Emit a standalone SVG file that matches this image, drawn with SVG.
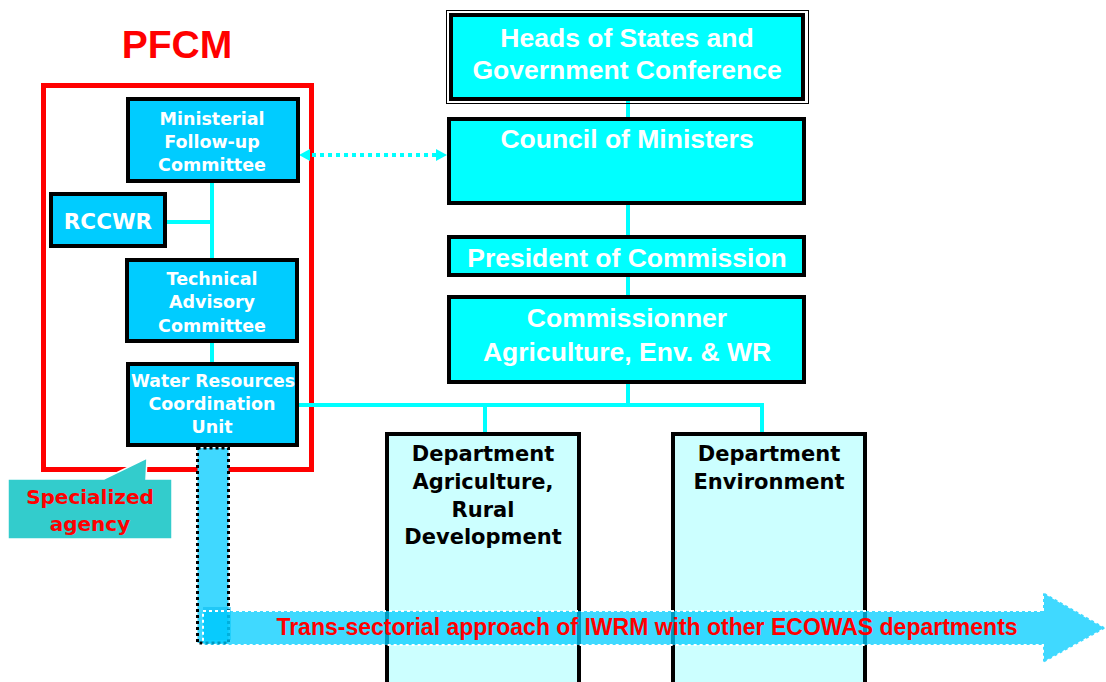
<svg xmlns="http://www.w3.org/2000/svg" width="1106" height="682" viewBox="0 0 1106 682">
<style>
.bx{fill:#00CCFF;stroke:#000;stroke-width:4}
.cy{fill:#00FFFF;stroke:#000;stroke-width:4}
.dp{fill:#CCFFFF;stroke:#000;stroke-width:4}
.tw{font-family:"DejaVu Sans",sans-serif;font-weight:bold;font-size:17.5px;fill:#fff;text-anchor:middle}
.ta{font-family:"Liberation Sans",Arial,sans-serif;font-weight:bold;font-size:26.5px;fill:#fff;text-anchor:middle}
.td{font-family:"DejaVu Sans",sans-serif;font-weight:bold;font-size:21px;fill:#000;text-anchor:middle}
.ln{stroke:#00FFFF;stroke-width:4;fill:none}
.hd{fill:#00FFFF}
</style>
<rect width="1106" height="682" fill="#fff"/>

<g id="pfcm">
<text x="177" y="58" font-family="Liberation Sans,Arial,sans-serif" font-weight="bold" font-size="39" fill="#FF0000" text-anchor="middle">PFCM</text>
<rect x="43.5" y="85.5" width="268" height="384" fill="none" stroke="#FF0000" stroke-width="5"/>
</g>

<g id="connectors">
<line class="ln" x1="212" y1="181" x2="212" y2="362"/>
<line class="ln" x1="165" y1="222" x2="212" y2="222"/>
<line class="ln" x1="628" y1="100" x2="628" y2="405"/>
<polyline class="ln" points="297,405 762,405 762,432"/>
<line class="ln" x1="485" y1="405" x2="485" y2="436"/>
<line x1="312" y1="155" x2="436" y2="155" stroke="#00FFFF" stroke-width="4" stroke-dasharray="4 4"/>
<polygon class="hd" points="299,155 310,149 310,161"/>
<polygon class="hd" points="447,155 436,149 436,161"/>
</g>

<g id="ministerial">
<rect class="bx" x="128" y="99" width="170" height="82"/>
<text class="tw" x="212" y="125">Ministerial</text>
<text class="tw" x="212" y="148">Follow-up</text>
<text class="tw" x="212" y="171">Committee</text>
</g>

<g id="rccwr">
<rect class="bx" x="51" y="194" width="114" height="52"/>
<text class="tw" x="108" y="229" style="font-size:21.5px">RCCWR</text>
</g>

<g id="technical">
<rect class="bx" x="127" y="260" width="170" height="81"/>
<text class="tw" x="212" y="285">Technical</text>
<text class="tw" x="212" y="308">Advisory</text>
<text class="tw" x="212" y="332">Committee</text>
</g>

<g id="wrcu">
<rect class="bx" x="128" y="364" width="169" height="81"/>
<text class="tw" x="213" y="387" textLength="164" lengthAdjust="spacingAndGlyphs">Water Resources</text>
<text class="tw" x="212" y="410">Coordination</text>
<text class="tw" x="212" y="433">Unit</text>
</g>

<g id="specialized">
<polygon points="8,479 104,479 147,458 146,479 172,479 172,539 8,539" fill="#33CCCC" stroke="#fff" stroke-width="1.5"/>
<text x="90" y="504" font-family="DejaVu Sans,sans-serif" font-weight="bold" font-size="20" fill="#FF0000" text-anchor="middle">Specialized</text>
<text x="90" y="531" font-family="DejaVu Sans,sans-serif" font-weight="bold" font-size="20" fill="#FF0000" text-anchor="middle">agency</text>
</g>

<g id="heads">
<rect x="446.5" y="10.5" width="362" height="93" fill="none" stroke="#000" stroke-width="1"/>
<rect x="451" y="15" width="352" height="84" fill="#00FFFF" stroke="#000" stroke-width="4"/>
<text class="ta" x="627" y="47">Heads of States and</text>
<text class="ta" x="627" y="79">Government Conference</text>
</g>

<g id="council">
<rect class="cy" x="449" y="119" width="355" height="84"/>
<text class="ta" x="627" y="148">Council of Ministers</text>
</g>

<g id="president">
<rect class="cy" x="449" y="237" width="355" height="38"/>
<text class="ta" x="627" y="267">President of Commission</text>
</g>

<g id="commissioner">
<rect class="cy" x="449" y="297" width="355" height="85"/>
<text class="ta" x="627" y="327">Commissionner</text>
<text class="ta" x="627" y="361">Agriculture, Env. &amp; WR</text>
</g>

<g id="dept-agri">
<rect class="dp" x="387" y="434" width="192" height="260"/>
<text class="td" x="483" y="461">Department</text>
<text class="td" x="483" y="489">Agriculture,</text>
<text class="td" x="483" y="517">Rural</text>
<text class="td" x="483" y="544">Development</text>
</g>

<g id="dept-env">
<rect class="dp" x="673" y="434" width="192" height="260"/>
<text class="td" x="769" y="461">Department</text>
<text class="td" x="769" y="489">Environment</text>
</g>

<g id="bar">
<rect x="197.5" y="448" width="31" height="195" fill="#40D8FF" stroke="#000" stroke-width="3" stroke-dasharray="3 3"/>
</g>

<g id="iwrm-arrow">
<rect x="203" y="607" width="28" height="33" fill="#00B8F0" opacity="0.5"/>
<path d="M203,611 L1043,611 L1043,592 L1106,628 L1043,663 L1043,645 L203,645 Z" fill="#00CCFF" fill-opacity="0.75" stroke="#fff" stroke-width="2" stroke-dasharray="3 3"/>
<text x="647" y="635" font-family="Liberation Sans,Arial,sans-serif" font-weight="bold" font-size="23" fill="#FF0000" text-anchor="middle">Trans-sectorial approach of IWRM with other ECOWAS departments</text>
</g>
</svg>
